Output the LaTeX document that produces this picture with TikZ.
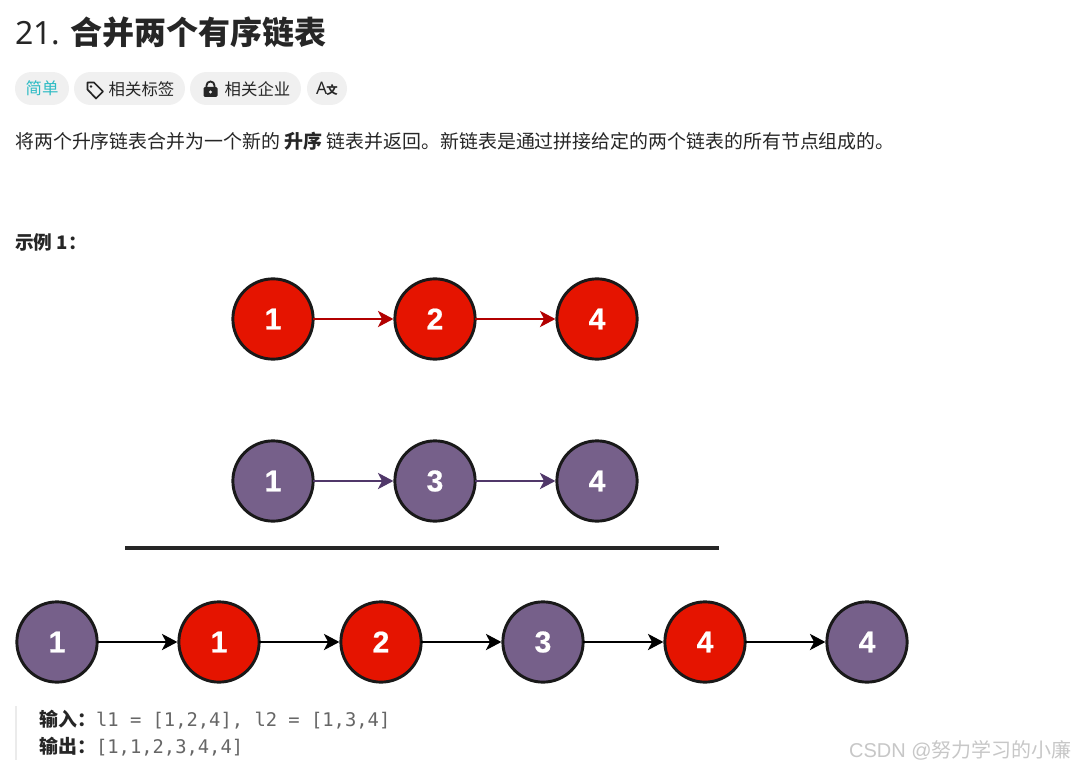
\documentclass[tikz,border=0pt]{standalone}
\usepackage{fontspec}
\setmainfont{Noto Sans CJK SC}
\newfontfamily\latinfont{Noto Sans}
\newfontfamily\digitfont[BoldFeatures={FakeBold=0.6}]{Liberation Sans}
\newfontfamily\codefont{DejaVu Sans Mono}
\usetikzlibrary{positioning}
\usetikzlibrary{arrows.meta}
\definecolor{redfill}{RGB}{229,20,0}
\definecolor{purplefill}{RGB}{118,96,138}
\definecolor{redline}{RGB}{178,0,0}
\definecolor{purpleline}{RGB}{80,55,105}
\definecolor{ink}{RGB}{38,38,38}
\definecolor{pillgray}{RGB}{240,240,240}
\newcommand{\pxfont}[1]{\fontsize{#1}{#1}\selectfont}

\begin{document}
\begin{tikzpicture}[
    x=0.75pt, y=-0.75pt,
    node distance=121.5pt,
    on grid,
    listnode/.style={circle, draw=black!90, line width=2.2pt, minimum size=60.2pt, inner sep=0pt, text=white, font=\digitfont\bfseries\pxfont{22.5}},
    rednode/.style={listnode, fill=redfill},
    purplenode/.style={listnode, fill=purplefill},
    link/.style={-{Stealth[length=11.5pt, width=12pt, inset=3pt]}, line width=2.2pt, shorten <=-1pt},
    pill/.style={rounded corners=12.3pt, fill=pillgray, minimum height=24.7pt, inner sep=0pt},
    txt/.style={anchor=west, inner sep=0pt, text=ink, font=\pxfont{14.2}},
    pilltxt/.style={inner sep=0pt, text=ink, font=\pxfont{12.3}},
]
    \useasboundingbox (0,0) rectangle (1076,767);
    \fill[white] (0,0) rectangle (1076,767);

    % Heading and tags
    \node[txt, font=\pxfont{24}] (title) at (15,32) {{\latinfont 21.} \textbf{合并两个有序链表}};
    \node[pill, minimum width=40.5pt] (easy) at (42,88.5) {};
    \node[pill, minimum width=83.2pt] (tags) at (129.5,88.5) {};
    \node[pill, minimum width=83.2pt] (firms) at (245.5,88.5) {};
    \node[pill, minimum width=30pt] (lang) at (327,88.5) {};
    \node[pilltxt, text={rgb,255:red,44;green,187;blue,196}] (easytxt) at (easy) {简单};
    \node[pilltxt] (tagstxt) at (141.5,89) {相关标签};
    \node[pilltxt] (firmstxt) at (257.5,89) {相关企业};
    \node[pilltxt, font=\pxfont{13}] (langtxt) at (lang) {{\latinfont A}\kern-0.6pt{\pxfont{8.5}\textbf{文}}};
    \draw[ink, line width=1.3pt, line join=round] (87.5,82.5) -- (94,82.5) -- (103,91.5) -- (96,98.5) -- (87.5,89.5) -- cycle;
    \fill[ink] (91,86.5) circle (1.3);
    \fill[ink, rounded corners=1pt] (203.5,87) rectangle (217.5,97);
    \draw[ink, line width=1.4pt] (206.5,87) -- (206.5,85.5) arc[start angle=180, end angle=360, radius=4] -- (214.5,87);
    \fill[pillgray] (210.5,92) circle (1.7);

    % Text
    \node[txt] (intro) at (15,141) {将两个升序链表合并为一个新的 \textbf{升序} 链表并返回。新链表是通过拼接给定的两个链表的所有节点组成的。};
    \node[txt, font=\bfseries\pxfont{14}] (example) at (15,242) {示例 1：};

    % First list
    \node[rednode] (a1) at (273,319) {1};
    \node[rednode, right=of a1] (a2) {2};
    \node[rednode, right=of a2] (a3) {4};
    \draw[link, redline] (a1) -- (a2);
    \draw[link, redline] (a2) -- (a3);

    % Second list
    \node[purplenode, below=of a1] (b1) {1};
    \node[purplenode, right=of b1] (b2) {3};
    \node[purplenode, right=of b2] (b3) {4};
    \draw[link, purpleline] (b1) -- (b2);
    \draw[link, purpleline] (b2) -- (b3);

    \coordinate (ruleL) at (125,548);
    \coordinate (ruleR) at (719,548);
    \draw[line width=2.4pt, ink] (ruleL) -- (ruleR);

    % Merged list
    \node[purplenode] (c1) at (57,642) {1};
    \node[rednode, right=of c1] (c2) {1};
    \node[rednode, right=of c2] (c3) {2};
    \node[purplenode, right=of c3] (c4) {3};
    \node[rednode, right=of c4] (c5) {4};
    \node[purplenode, right=of c5] (c6) {4};
    \foreach \from/\to in {c1/c2, c2/c3, c3/c4, c4/c5, c5/c6}
        \draw[link, black] (\from) -- (\to);

    % Input and output
    \fill[black!8] (15,706) rectangle (17,760);
    \node[txt] (input) at (39,720) {\textbf{输入：}{\codefont\color{black!60}\pxfont{14.1}l1 = [1,2,4], l2 = [1,3,4]}};
    \node[txt] (output) at (39,747) {\textbf{输出：}{\codefont\color{black!60}\pxfont{14.1}[1,1,2,3,4,4]}};
    \node[anchor=east, inner sep=0pt, text=black!22, font=\pxfont{15}] (mark) at (1072,750) {{\digitfont CSDN @}努力学习的小廉};
\end{tikzpicture}
\end{document}
